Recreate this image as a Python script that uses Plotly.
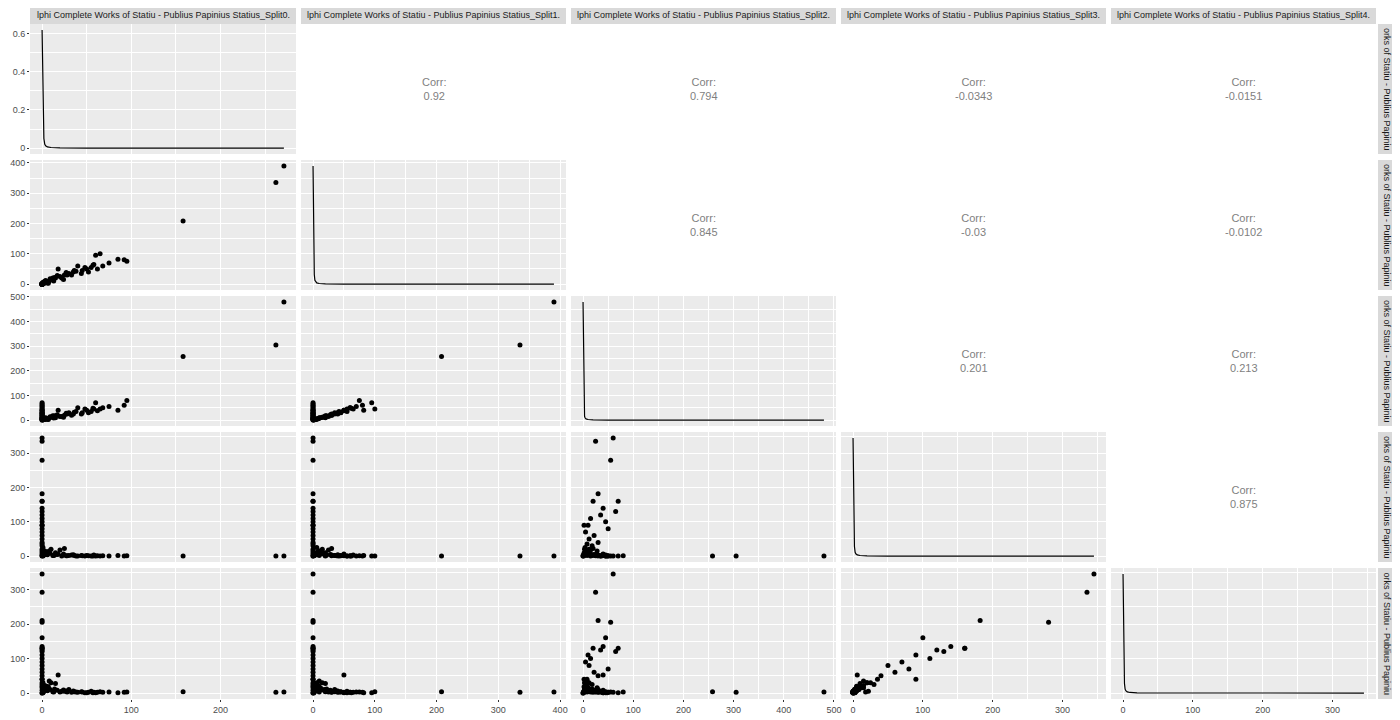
import plotly.graph_objects as go

names = ["lphi Complete Works of Statiu - Publius Papinius Statius_Split%d." % i for i in range(5)]
side_label = "orks of Statiu - Publius Papiniu"

# observations (V0..V4)
V0 = [271,262,158, 95,92,85,75,68,65,60,58,55,50,45,40,35,30,25,20,18,15,10,8,5,3,2,1,0,0,1,
      0,0,0,0,0,0,0,0,0,0,0,0,0,0,0,0,0,0,0,0,0,0, 12,28,6,4,2,1,0,0,
      52,48,44,38,33,27,22,17,13,9,6,4,57,62,36,24,14,7,3,1]
V1 = [390,335,208, 75,80,82,70,60,100,95,65,55,50,45,60,40,35,30,25,50,20,15,10,8,5,3,2,0,1,0,
      0,0,0,0,0,0,0,0,0,0,0,0,0,0,0,0,0,0,0,0,0,0, 20,30,8,5,3,1,0,0,
      40,55,35,42,30,38,20,28,10,18,4,12,62,50,45,15,22,3,9,6]
V2 = [480,305,258, 80,60,40,55,50,45,70,45,35,40,30,50,25,30,20,15,40,10,12,8,5,3,2,1,0,0,1,
      60,25,55,30,20,40,35,15,45,10,50,5,22,12,30,8,18,3,28,6,40,2, 18,25,5,3,2,1,70,65,
      30,45,25,35,20,28,15,22,8,14,3,10,48,38,32,12,18,2,7,4]
V3 = [0,0,0, 1,0,2,0,1,0,0,3,0,2,1,0,4,2,22,18,6,10,20,15,5,8,3,2,0,1,0,
      345,335,280,182,160,140,120,110,100,90,80,70,60,50,40,35,30,20,15,10,5,90, 2,1,12,8,5,3,160,130,
      1,0,2,0,3,1,0,5,2,8,4,12,0,1,2,6,3,9,15,25]
V4 = [3,2,4, 3,2,1,3,2,4,1,2,5,1,3,2,6,10,5,3,52,28,30,35,20,12,5,3,0,0,1,
      345,292,205,210,130,135,125,100,160,110,70,90,60,80,50,40,25,30,15,20,8,40, 4,3,15,10,6,2,130,120,
      2,1,4,3,2,6,5,8,3,10,7,15,1,2,4,9,12,18,22,30]
data = [V0, V1, V2, V3, V4]
maxv = [271, 390, 480, 345, 345]

# density curves read from the diagonal (x value, density)
dens_x = [[0,1,2,3,4,6,10,20,50,271],
          [0,1,2,3,4,6,10,20,50,390],
          [0,1,2,3,4,6,10,20,50,480],
          [0,1,2,3,4,6,10,20,50,345],
          [0,1,2,3,4,6,10,20,50,345]]
dens_y = [[0.62,0.28,0.05,0.02,0.012,0.006,0.003,0.001,0.0003,0],
          [0.62,0.28,0.05,0.02,0.012,0.006,0.003,0.001,0.0003,0],
          [0.62,0.28,0.05,0.02,0.012,0.006,0.003,0.001,0.0003,0],
          [0.62,0.28,0.05,0.02,0.012,0.006,0.003,0.001,0.0003,0],
          [0.62,0.28,0.05,0.02,0.012,0.006,0.003,0.001,0.0003,0]]
corr = {(0,1):"0.92",(0,2):"0.794",(0,3):"-0.0343",(0,4):"-0.0151",
        (1,2):"0.845",(1,3):"-0.03",(1,4):"-0.0102",
        (2,3):"0.201",(2,4):"0.213",(3,4):"0.875"}

W, H = 1400, 720
OX, OY = 4, 6
cols = [(26,292),(297,562),(567,832),(837,1102),(1107,1372)]
rows = [(22,152),(158,288),(294,424),(430,560),(566,697)]
def px(v): return (v - OX) / W
def py(v): return min(1.0, 1 - (v - OY) / H)

fig = go.Figure()
layout = {}
shapes = []
ann = []
def rng(m):
    return [-0.05*m, 1.05*m]

for r in range(5):
    for c in range(5):
        k = r*5 + c + 1
        xa = "xaxis" if k == 1 else "xaxis%d" % k
        ya = "yaxis" if k == 1 else "yaxis%d" % k
        xr = "x" if k == 1 else "x%d" % k
        yr = "y" if k == 1 else "y%d" % k
        x0, x1 = cols[c]; y0, y1 = rows[r]
        upper = c > r
        grid = "#d9d9d9" if upper else "white"
        xdt = 100
        if r == c:
            ydt = 0.2 if r == 0 else 100
            yrange = [-0.031, 0.651] if r == 0 else rng(maxv[r])
        else:
            ydt = 100
            yrange = rng(maxv[r])
        layout[xa] = dict(domain=[px(x0), px(x1)], anchor=yr, range=rng(maxv[c]), dtick=xdt,
                          showgrid=True, gridcolor=grid, gridwidth=1.1, zeroline=False,
                          showticklabels=(r == 4), ticks="outside" if r == 4 else "",
                          ticklen=2, tickcolor="#333", tickfont=dict(size=9, color="#4d4d4d"),
                          minor=dict(dtick=xdt/2, showgrid=True, gridcolor=grid, gridwidth=0.5),
                          showline=False, fixedrange=True, automargin=False)
        layout[ya] = dict(domain=[py(y1), py(y0)], anchor=xr, range=yrange, dtick=ydt,
                          showgrid=True, gridcolor=grid, gridwidth=1.1, zeroline=False,
                          showticklabels=(c == 0), ticks="outside" if c == 0 else "",
                          ticklen=2, tickcolor="#333", tickfont=dict(size=9, color="#4d4d4d"),
                          minor=dict(dtick=ydt/2, showgrid=True, gridcolor=grid, gridwidth=0.5),
                          showline=False, fixedrange=True, automargin=False)
        shapes.append(dict(type="rect", xref="paper", yref="paper", layer="below",
                           x0=px(x0), x1=px(x1), y0=py(y1), y1=py(y0),
                           fillcolor="white" if upper else "#ebebeb", line=dict(width=0)))
        if r == c:
            dy = dens_y[r]
            if r > 0:
                dy = [v/0.62*maxv[r] for v in dy]
            fig.add_trace(go.Scatter(x=dens_x[c], y=dy, mode="lines", xaxis=xr, yaxis=yr,
                                     line=dict(color="black", width=1.2), showlegend=False))
        elif r > c:
            fig.add_trace(go.Scatter(x=data[c], y=data[r], mode="markers", xaxis=xr, yaxis=yr,
                                     marker=dict(color="black", size=5), showlegend=False))
        else:
            ann.append(dict(x=px((x0+x1)/2), y=py((y0+y1)/2), xref="paper", yref="paper",
                            xanchor="center", yanchor="middle",
                            text="Corr:<br>" + corr[(r, c)], showarrow=False,
                            font=dict(size=11, color="#7f7f7f", family="Liberation Sans")))

for c in range(5):
    x0, x1 = cols[c]
    shapes.append(dict(type="rect", xref="paper", yref="paper", x0=px(x0), x1=px(x1),
                       y0=py(22), y1=py(5), fillcolor="#d9d9d9", line=dict(width=0)))
    ann.append(dict(x=px((x0+x1)/2), y=py(13.5), xref="paper", yref="paper", text=names[c],
                    xanchor="center", yanchor="middle",
                    showarrow=False, font=dict(size=9, color="#1a1a1a", family="Liberation Sans")))
for r in range(5):
    y0, y1 = rows[r]
    shapes.append(dict(type="rect", xref="paper", yref="paper", x0=px(1374), x1=px(1392),
                       y0=py(y1), y1=py(y0), fillcolor="#d9d9d9", line=dict(width=0)))
    ann.append(dict(x=px(1383), y=py((y0+y1)/2), xref="paper", yref="paper", text=side_label,
                    xanchor="center", yanchor="middle", textangle=90, showarrow=False,
                    font=dict(size=9, color="#1a1a1a", family="Liberation Sans")))

fig.update_layout(width=W, height=H, margin=dict(l=0, r=0, t=0, b=0),
                  paper_bgcolor="white", plot_bgcolor="rgba(0,0,0,0)",
                  shapes=shapes, annotations=ann, font=dict(family="Liberation Sans"), **layout)
fig.write_html("out.html")
